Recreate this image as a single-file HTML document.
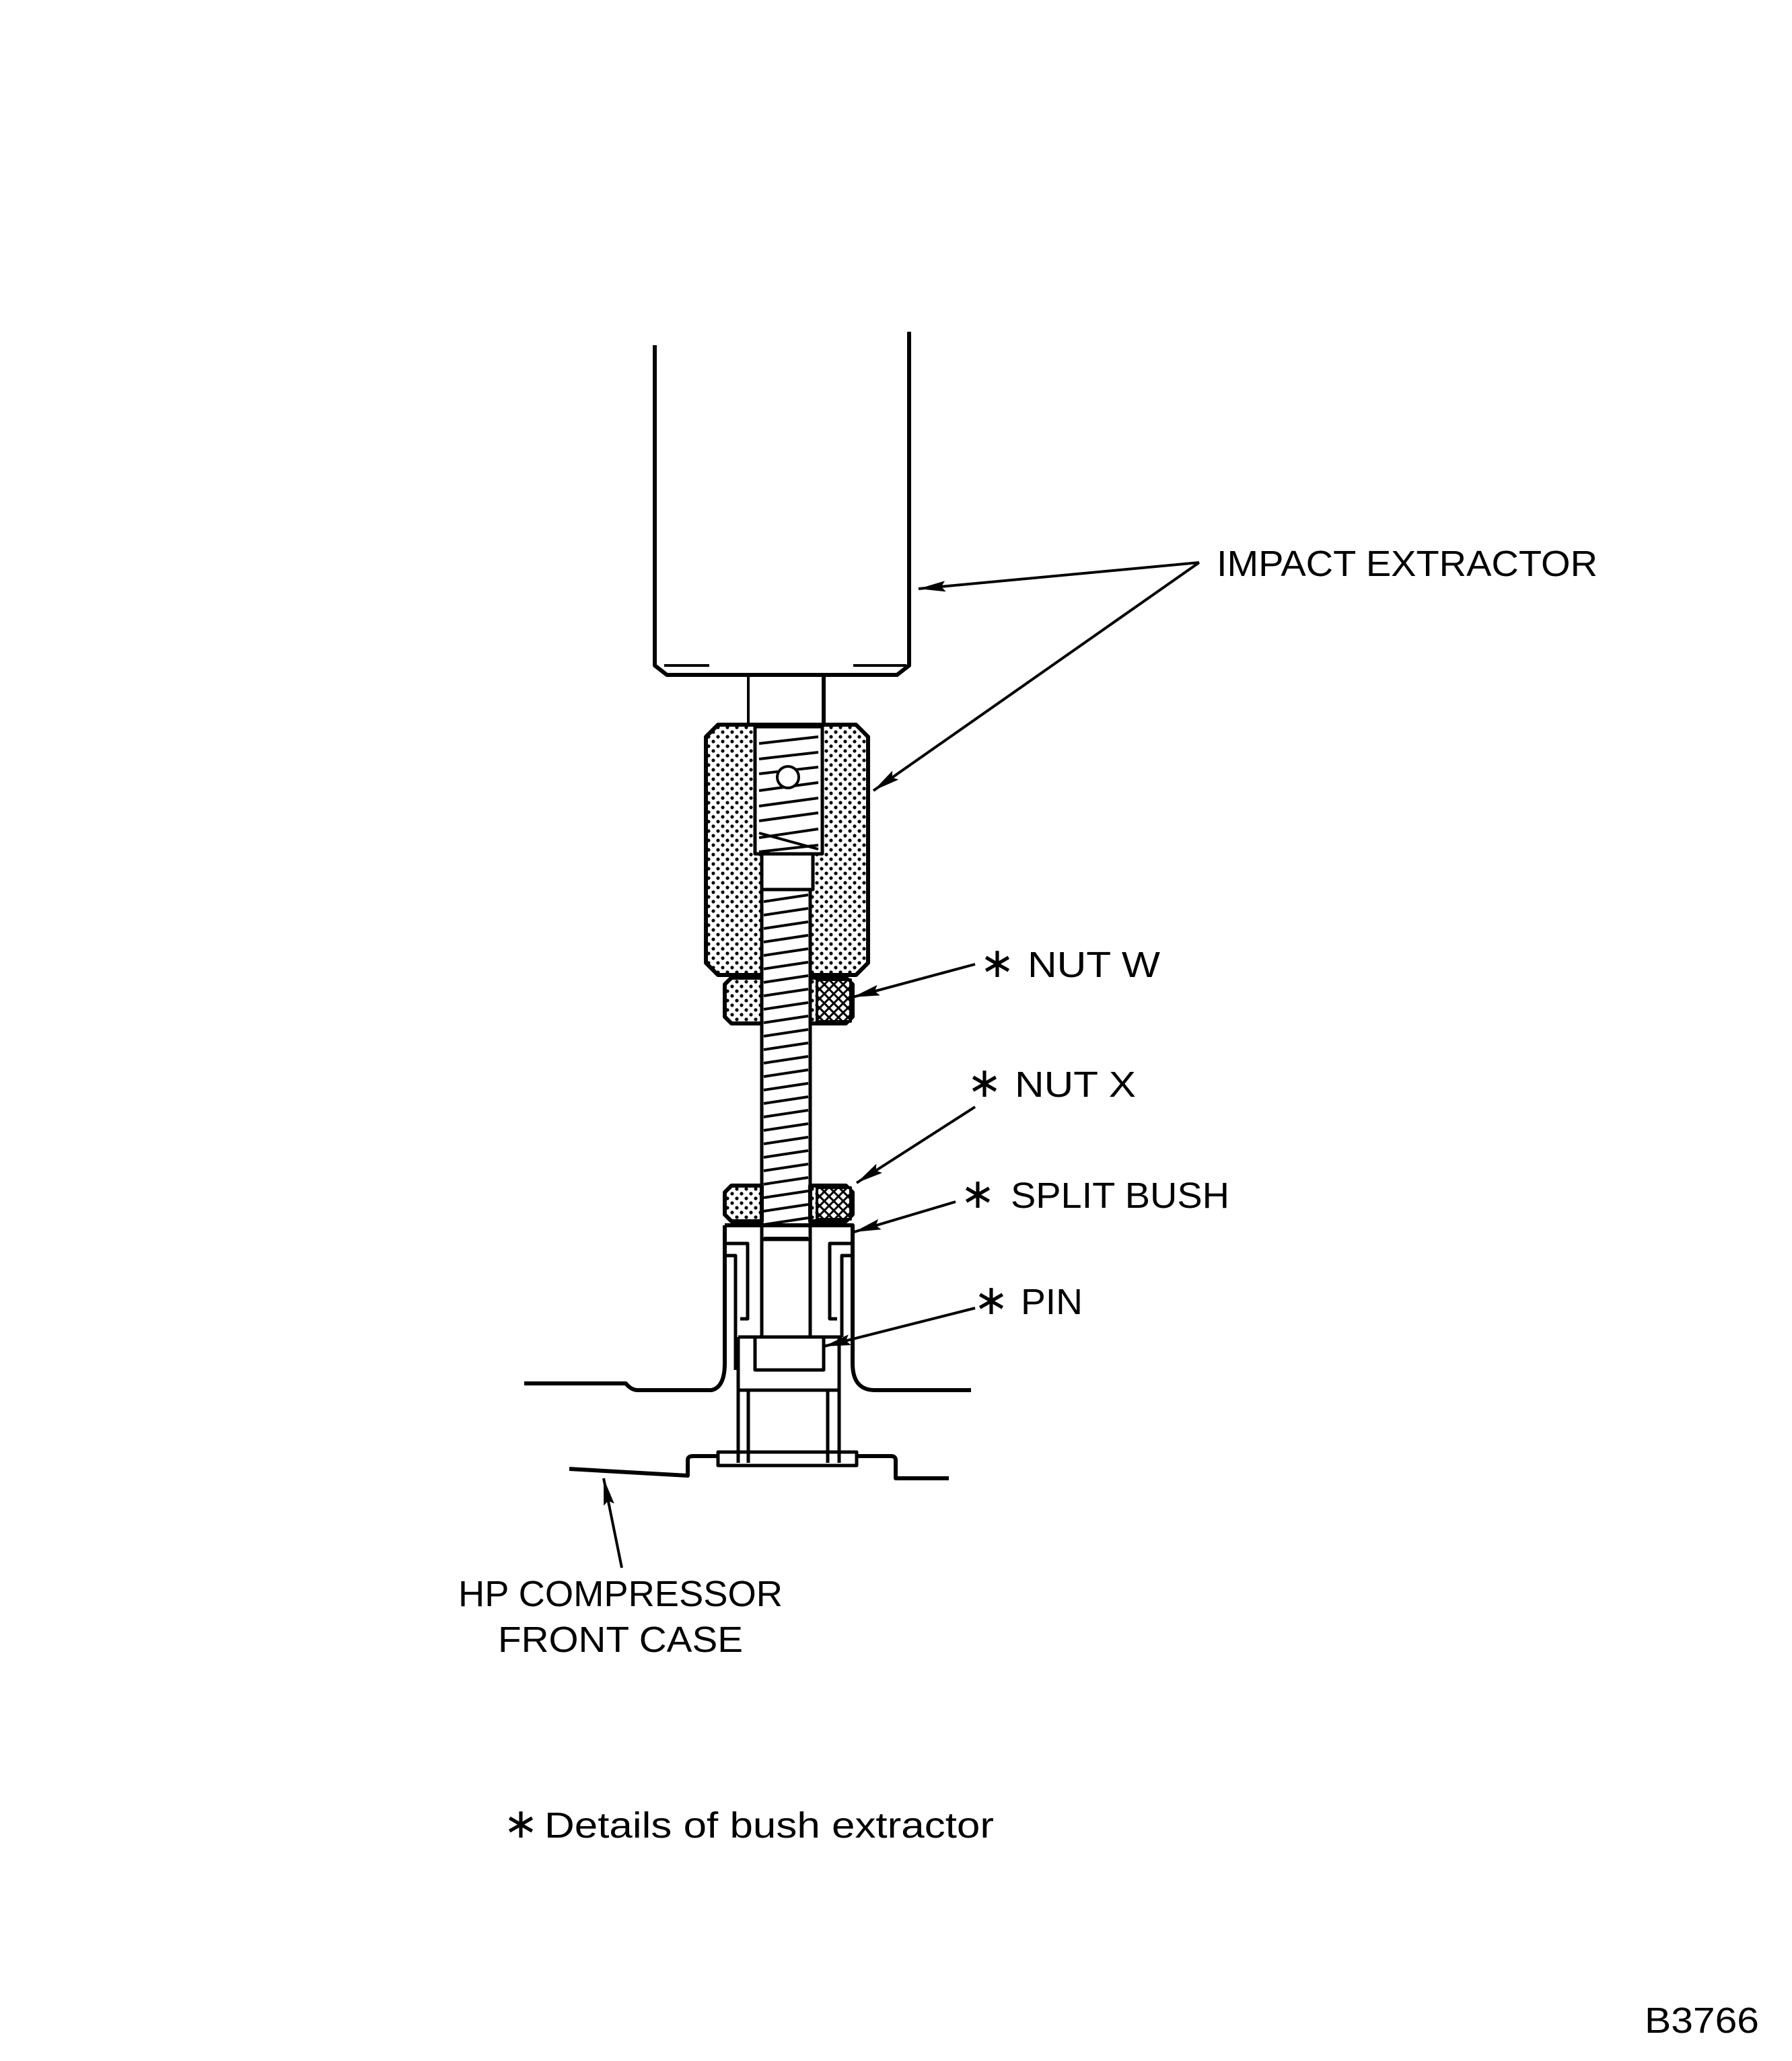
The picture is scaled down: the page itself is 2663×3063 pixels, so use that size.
<!DOCTYPE html>
<html><head><meta charset="utf-8"><style>
html,body{margin:0;padding:0;background:#fff;}
svg{display:block;}
text{font-family:"Liberation Sans",sans-serif;fill:#000;}
</style></head><body>
<svg width="2663" height="3063" viewBox="0 0 2663 3063" xmlns="http://www.w3.org/2000/svg">
<defs>
<pattern id="dots" width="14" height="14" patternUnits="userSpaceOnUse">
<rect width="14" height="14" fill="#fff"/>
<circle cx="3" cy="3" r="2.6" fill="#000"/><circle cx="10" cy="10" r="2.6" fill="#000"/>
</pattern>
<pattern id="cross" width="14" height="14" patternUnits="userSpaceOnUse">
<rect width="14" height="14" fill="#fff"/>
<path d="M0 0L14 14M14 0L0 14" stroke="#000" stroke-width="3"/>
</pattern>
<marker id="ahb" viewBox="0 0 40 16" refX="40" refY="8" markerWidth="40" markerHeight="16" markerUnits="userSpaceOnUse" orient="auto">
<path d="M0 0L40 8L0 16L6 8Z" fill="#000"/>
</marker>
</defs>
<g fill="none" stroke="#000" stroke-width="6" stroke-linejoin="round">
<path d="M973 513 V989 L991 1003 H1333 L1351 989 V493"/>
<path d="M987 989 H1054 M1268 989 H1347" stroke-width="4"/>
<path d="M1112 1003 V1077" stroke-width="4"/>
<path d="M1224 1003 V1077" stroke-width="6"/>
<path d="M1067 1077 H1272 L1290 1095 V1431 L1272 1449 H1067 L1049 1431 V1095 Z" fill="url(#dots)"/>
<rect x="1122" y="1080" width="100" height="189" fill="#fff" stroke-width="5"/>
<path d="M1128 1105L1216 1095M1128 1128L1216 1118M1128 1150L1216 1140M1128 1175L1216 1163M1128 1198L1216 1186M1128 1220L1216 1208M1128 1238L1216 1262M1128 1245L1216 1232M1128 1266L1216 1256" stroke-width="4"/>
<circle cx="1171" cy="1155" r="16" fill="#fff" stroke-width="4"/>
<rect x="1132" y="1269" width="76" height="53" fill="#fff" stroke-width="5"/>
<path d="M1087 1453 H1257 L1267 1463 V1511 L1257 1521 H1087 L1077 1511 V1463 Z" fill="url(#dots)"/>
<rect x="1214" y="1456" width="50" height="62" fill="url(#cross)" stroke-width="4"/>
<rect x="1132" y="1322" width="72" height="520" fill="#fff" stroke-width="5"/>
<path d="M1135 1340L1201 1330M1135 1360L1201 1350M1135 1380L1201 1370M1135 1400L1201 1390M1135 1420L1201 1410M1135 1440L1201 1430M1135 1460L1201 1450M1135 1480L1201 1470M1135 1500L1201 1490M1135 1520L1201 1510M1135 1540L1201 1530M1135 1560L1201 1550M1135 1580L1201 1570M1135 1600L1201 1590M1135 1620L1201 1610M1135 1640L1201 1630M1135 1660L1201 1650M1135 1680L1201 1670M1135 1700L1201 1690M1135 1720L1201 1710M1135 1740L1201 1730M1135 1760L1201 1750M1135 1780L1201 1770M1135 1800L1201 1790M1135 1820L1201 1810M1135 1840L1201 1840" stroke-width="4"/>
<path d="M1087 1762 H1132 V1815 H1087 L1077 1805 V1772 Z" fill="url(#dots)"/>
<path d="M1204 1762 H1257 L1267 1772 V1805 L1257 1815 H1204 Z" fill="url(#dots)"/>
<rect x="1214" y="1765" width="50" height="47" fill="url(#cross)" stroke-width="4"/>
<path d="M1132 1815 V1987 M1204 1815 V1987" stroke-width="5"/>
<path d="M1077 1821 H1267 V2026"/>
<path d="M1077 1821 V2026"/>
<path d="M1077 1848 H1111 V1960 H1100" stroke-width="5"/>
<path d="M1077 1866 H1093 V2036" stroke-width="5"/>
<path d="M1267 1848 H1233 V1960 H1244" stroke-width="5"/>
<path d="M1267 1866 H1251 V1987" stroke-width="5"/>
<path d="M1097 1987 H1251" stroke-width="5"/>
<rect x="1122" y="1987" width="102" height="49" fill="#fff" stroke-width="5"/>
<path d="M1097 1987 V2174 M1112 2066 V2174 M1230 2066 V2174 M1247 1987 V2174" stroke-width="5"/>
<path d="M1097 2066 H1247" stroke-width="5"/>
<rect x="1067" y="2158" width="206" height="20" stroke-width="5"/>
<path d="M779 2056 H930 Q938 2066 948 2066 H1057 Q1077 2062 1077 2026"/>
<path d="M1267 2026 Q1267 2066 1300 2066 H1443"/>
<path d="M846 2183 L1022 2193 V2170 Q1022 2164 1030 2164 H1067"/>
<path d="M1273 2164 H1324 Q1331 2164 1331 2170 V2197 H1410"/>
</g>
<g stroke="#000" stroke-width="4" fill="none">
<path d="M1782 836 L1365 875" marker-end="url(#ahb)"/>
<path d="M1782 836 L1298 1175" marker-end="url(#ahb)"/>
<path d="M1449 1433 L1267 1482" marker-end="url(#ahb)"/>
<path d="M1449 1645 L1273 1758" marker-end="url(#ahb)"/>
<path d="M1420 1786 L1269 1831" marker-end="url(#ahb)"/>
<path d="M1449 1944 L1224 2001" marker-end="url(#ahb)"/>
<path d="M924 2330 L897 2197" marker-end="url(#ahb)"/>
</g>
<g font-size="54">
<text x="1808" y="856" textLength="566" lengthAdjust="spacingAndGlyphs">IMPACT EXTRACTOR</text>
<text x="1456" y="1452" font-size="62">∗</text>
<text x="1527" y="1452" textLength="197" lengthAdjust="spacingAndGlyphs">NUT  W</text>
<text x="1437" y="1630" font-size="62">∗</text>
<text x="1508" y="1630" textLength="180" lengthAdjust="spacingAndGlyphs">NUT  X</text>
<text x="1427" y="1795" font-size="62">∗</text>
<text x="1502" y="1795" textLength="325" lengthAdjust="spacingAndGlyphs">SPLIT BUSH</text>
<text x="1447" y="1953" font-size="62">∗</text>
<text x="1517" y="1953" textLength="92" lengthAdjust="spacingAndGlyphs">PIN</text>
<text x="681" y="2387" textLength="482" lengthAdjust="spacingAndGlyphs">HP COMPRESSOR</text>
<text x="740" y="2455" textLength="364" lengthAdjust="spacingAndGlyphs">FRONT CASE</text>
<text x="748" y="2731" font-size="62">∗</text>
<text x="809" y="2731" textLength="668" lengthAdjust="spacingAndGlyphs">Details  of  bush  extractor</text>
<text x="2444" y="3021" textLength="170" lengthAdjust="spacingAndGlyphs">B3766</text>
</g>
</svg>
</body></html>
